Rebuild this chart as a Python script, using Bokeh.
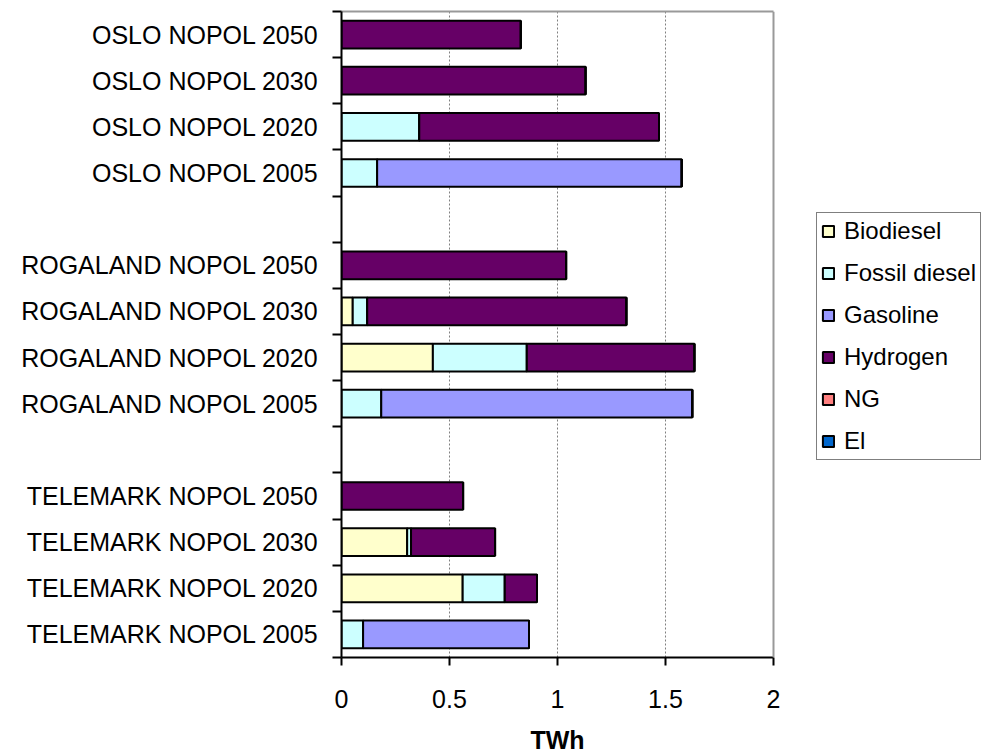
from bokeh.plotting import figure
from bokeh.models import (Range1d, FixedTicker, ColumnDataSource, LinearAxis, Span,
                          Title, CDSView, BooleanFilter)
from bokeh.embed import file_html
from bokeh.resources import INLINE

# ---- data (top to bottom; blank names = gap rows) ----
categories = [
    "OSLO NOPOL 2050", "OSLO NOPOL 2030", "OSLO NOPOL 2020", "OSLO NOPOL 2005", "",
    "ROGALAND NOPOL 2050", "ROGALAND NOPOL 2030", "ROGALAND NOPOL 2020", "ROGALAND NOPOL 2005", " ",
    "TELEMARK NOPOL 2050", "TELEMARK NOPOL 2030", "TELEMARK NOPOL 2020", "TELEMARK NOPOL 2005",
]
biodiesel     = [0, 0, 0, 0, 0,   0, 0.052, 0.423, 0, 0,   0, 0.304, 0.561, 0]
fossil_diesel = [0, 0, 0.36, 0.165, 0,   0, 0.067, 0.435, 0.184, 0,   0, 0.018, 0.195, 0.100]
gasoline      = [0, 0, 0, 1.41, 0,   0, 0, 0, 1.44, 0,   0, 0, 0, 0.768]
hydrogen      = [0.83, 1.13, 1.11, 0, 0,   1.04, 1.20, 0.776, 0, 0,   0.563, 0.389, 0.149, 0]
ng            = [0] * 14
el            = [0] * 14

series_names = ["Biodiesel", "Fossil diesel", "Gasoline", "Hydrogen", "NG", "El"]
series_values = [biodiesel, fossil_diesel, gasoline, hydrogen, ng, el]
series_colors = ["#FFFFCC", "#CCFFFF", "#9999FF", "#660066", "#FF8080", "#0066CC"]

x_ticks = [0, 0.5, 1, 1.5, 2]
x_tick_labels = ["0", "0.5", "1", "1.5", "2"]
x_max = 2
x_title = "TWh"

FONT = "Liberation Sans"
n = len(categories)
centers = [n - i - 0.5 for i in range(n)]

# frame: left edge at 341 px, x=2 at 773 px; frame extended to the canvas edge so the legend fits inside it
FRAME_LEFT, AXIS_END_PX, W = 341, 773, 985
x_end = x_max * (W - FRAME_LEFT) / (AXIS_END_PX - FRAME_LEFT)

p = figure(width=W, height=754, output_backend="svg", toolbar_location=None,
           x_range=Range1d(0, x_end), y_range=Range1d(0, n),
           min_border_left=FRAME_LEFT, min_border_right=0, min_border_top=11, min_border_bottom=97)

p.background_fill_color = "white"
p.border_fill_color = "white"
p.outline_line_color = None

data = dict(y=centers)
for name, vals in zip(series_names, series_values):
    data[name] = vals
source = ColumnDataSource(data)
has_bar = [c.strip() != "" for c in categories]
view = CDSView(filter=BooleanFilter(has_bar))

renderers = p.hbar_stack(series_names, y="y", height=0.6, source=source, view=view,
                         fill_color=series_colors, line_color="black", line_width=2,
                         legend_label=series_names)

# x axis
p.xaxis.ticker = FixedTicker(ticks=x_ticks)
p.xaxis.bounds = (0, x_max)
p.xaxis.major_label_overrides = {t: l for t, l in zip(x_ticks, x_tick_labels)}
p.xaxis.major_label_text_font = FONT
p.xaxis.major_label_text_font_size = "25px"
p.xaxis.major_label_text_color = "black"
p.xaxis.major_label_standoff = 24
p.xaxis.major_tick_out = 8
p.xaxis.major_tick_in = 0
p.xaxis.minor_tick_line_color = None
p.xaxis.axis_line_width = 2
p.xaxis.major_tick_line_width = 2
# blank spacer label, so the axis title below sits lower
p.xaxis.axis_label = " "
p.xaxis.axis_label_text_font_size = "10px"
p.xaxis.axis_label_standoff = 0

# axis title, centred under 0..2
t = Title(text=x_title, align="left", offset=189, vertical_align="middle",
          text_font=FONT, text_font_size="25px", text_font_style="bold",
          text_color="black", standoff=0)
p.add_layout(t, "below")

# top border of the plot area (grey), only over 0..2
top = LinearAxis(ticker=FixedTicker(ticks=[]), bounds=(0, x_max),
                 axis_line_color="#999999", axis_line_width=2,
                 major_tick_line_color=None, minor_tick_line_color=None,
                 major_label_text_font_size="0px")
p.add_layout(top, "above")

# right border at x = 2
p.add_layout(Span(location=x_max, dimension="height", line_color="#999999", line_width=2))

# y axis: labels at centers, tick marks at category boundaries
p.yaxis.ticker = FixedTicker(ticks=centers, minor_ticks=list(range(n + 1)))
p.yaxis.major_label_overrides = {c: lab for c, lab in zip(centers, categories)}
p.yaxis.major_tick_out = 0
p.yaxis.major_tick_in = 0
p.yaxis.minor_tick_out = 9
p.yaxis.minor_tick_in = 0
p.yaxis.minor_tick_line_width = 2
p.yaxis.axis_line_width = 2
p.yaxis.major_label_text_font = FONT
p.yaxis.major_label_text_font_size = "25px"
p.yaxis.major_label_text_color = "black"
p.yaxis.major_label_standoff = 14

p.ygrid.grid_line_color = None
p.xgrid.ticker = FixedTicker(ticks=[0.5, 1, 1.5])
p.xgrid.grid_line_color = "#808080"
p.xgrid.grid_line_dash = "2 2"
p.xgrid.grid_line_width = 1

legend = p.legend[0]
legend.location = (475, 197)
legend.label_text_font = FONT
legend.label_text_font_size = "24px"
legend.label_text_color = "black"
legend.glyph_width = 14
legend.glyph_height = 14
legend.label_standoff = 9
legend.spacing = 14
legend.padding = 4
legend.margin = 0
legend.border_line_color = "black"
legend.border_line_width = 1.5
legend.background_fill_color = "white"
legend.background_fill_alpha = 1

open("out.html", "w").write(file_html(p, INLINE))
